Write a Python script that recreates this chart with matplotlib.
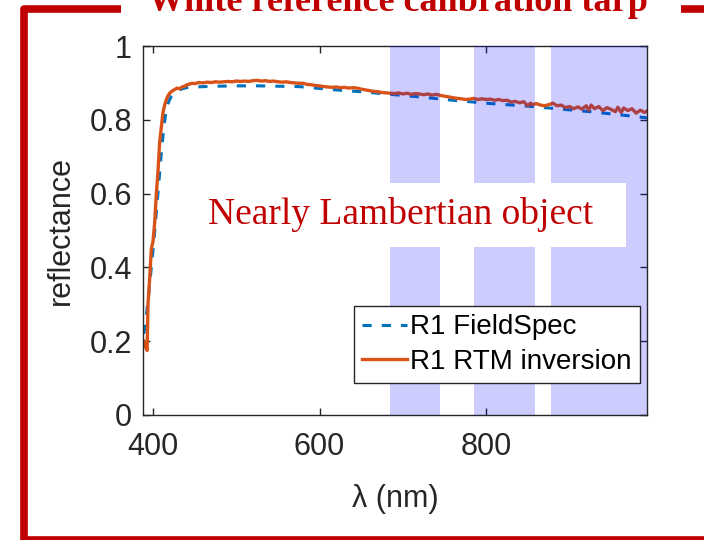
import matplotlib
matplotlib.use("Agg")
import matplotlib.pyplot as plt
from matplotlib.lines import Line2D
from matplotlib.patches import Rectangle

# ---------------- data ----------------
fs_wl = [389, 392, 395, 398, 401, 404, 407, 410, 413, 416, 419, 422, 426, 430, 435, 440, 450,
         475, 500, 525, 550, 575, 600, 625, 650, 675, 700, 725, 750, 775, 800, 825, 850,
         875, 900, 925, 950, 975, 993]
fs_val = [0.22, 0.27, 0.33, 0.40, 0.47, 0.55, 0.63, 0.71, 0.78, 0.83, 0.850, 0.864, 0.874,
          0.880, 0.884, 0.887, 0.889, 0.891, 0.892, 0.892, 0.891, 0.890, 0.885, 0.880,
          0.876, 0.871, 0.866, 0.861, 0.855, 0.850, 0.845, 0.841, 0.837, 0.832, 0.827,
          0.822, 0.816, 0.810, 0.805]

rtm_wl = [389, 391, 393, 394, 396, 398, 400, 402, 404, 406, 408, 410, 412, 414, 416, 418, 420,
          423, 426, 429, 432, 435, 438, 441, 444, 447, 450, 455, 460, 465, 470, 475, 480,
          485, 490, 495, 500, 505, 510, 515, 520, 525, 530, 535, 540, 545, 550, 555, 560,
          565, 570, 575, 580, 585, 590, 595, 600, 605, 610, 615, 620, 625, 630, 635, 640,
          645, 650, 655, 660, 665, 670, 675, 680, 685, 690, 695, 700, 705, 710, 715, 720,
          725, 730, 735, 740, 745, 750, 755, 760, 765, 770, 775, 780, 785, 790, 795, 800,
          805, 810, 815, 820, 825, 830, 835, 840, 845, 850, 853, 856, 860, 865, 870, 875,
          880, 885, 890, 895, 900, 905, 910, 915, 920, 923, 926, 930, 935, 940, 945, 950,
          955, 958, 962, 965, 970, 975, 980, 985, 990, 993]
rtm_val = [0.20, 0.185, 0.175, 0.30, 0.37, 0.45, 0.47, 0.52, 0.60, 0.66, 0.74, 0.78, 0.82,
           0.84, 0.855, 0.865, 0.872, 0.878, 0.882, 0.886, 0.884, 0.889, 0.891, 0.895,
           0.897, 0.899, 0.898, 0.901, 0.900, 0.902, 0.901, 0.903, 0.902, 0.903, 0.904,
           0.903, 0.905, 0.904, 0.905, 0.904, 0.906, 0.907, 0.905, 0.906, 0.904, 0.905,
           0.903, 0.902, 0.903, 0.901, 0.900, 0.899, 0.899, 0.896, 0.895, 0.893, 0.892,
           0.890, 0.889, 0.888, 0.889, 0.887, 0.888, 0.886, 0.887, 0.886, 0.883, 0.881,
           0.879, 0.877, 0.876, 0.874, 0.873, 0.872, 0.871, 0.873, 0.870, 0.872, 0.869,
           0.871, 0.870, 0.868, 0.870, 0.867, 0.869, 0.866, 0.864, 0.862, 0.860, 0.858,
           0.857, 0.855, 0.856, 0.858, 0.855, 0.857, 0.855, 0.856, 0.853, 0.855, 0.852,
           0.853, 0.848, 0.850, 0.846, 0.849, 0.838, 0.845, 0.841, 0.844, 0.840, 0.838,
           0.841, 0.845, 0.838, 0.840, 0.833, 0.836, 0.830, 0.835, 0.829, 0.838, 0.826,
           0.840, 0.830, 0.836, 0.825, 0.833, 0.828, 0.822, 0.834, 0.820, 0.832, 0.825,
           0.830, 0.818, 0.826, 0.820, 0.824]

bands = [(685, 745), (785, 859), (878, 1000)]

x_ticks = [400, 600, 800]
y_ticks = [0, 0.2, 0.4, 0.6, 0.8, 1]
y_tick_labels = ["0", "0.2", "0.4", "0.6", "0.8", "1"]

series_labels = ["R1 FieldSpec", "R1 RTM inversion"]
title_text = "White reference calibration tarp"
note_text = "Nearly Lambertian object"

# ---------------- style ----------------
BLUE = "#0072BD"
ORANGE = "#D95319"
DARKRED = "#C00000"
SANS = ["Liberation Sans", "DejaVu Sans"]
SERIF = ["Liberation Serif", "DejaVu Serif"]

plt.rcParams["font.family"] = SANS

fig = plt.figure(figsize=(7.04, 5.40), dpi=100)
ax = fig.add_axes([143 / 704, 1 - 415 / 540, 504 / 704, 369 / 540])

l1, = ax.plot(fs_wl, fs_val, color=BLUE, lw=2.2, ls=(0, (3.0, 3.3)), zorder=2)
l2, = ax.plot(rtm_wl, rtm_val, color=ORANGE, lw=2.4, zorder=2.2)

for a, b in bands:
    ax.axvspan(a, b, color=(0, 0, 1), alpha=0.2, lw=0, zorder=3)

ax.set_xlim(388, 993)
ax.set_ylim(0, 1)
ax.set_xticks(x_ticks)
ax.set_yticks(y_ticks)
ax.set_yticklabels(y_tick_labels)
ax.tick_params(direction="in", length=5, width=1, top=True, right=True,
               labelsize=22, colors="#262626")
ax.tick_params(axis="x", pad=12)
ax.tick_params(axis="y", pad=8)
for s in ax.spines.values():
    s.set_linewidth(1.0)
    s.set_color("#262626")

ax.set_ylabel("reflectance", fontsize=22, color="#262626", labelpad=10)
ax.set_xlabel("λ (nm)", fontsize=22, color="#262626", labelpad=16)

# white box behind the annotation
ax.add_patch(Rectangle((33 / 504, (415 - 247) / 369), 450 / 504, 64 / 369,
                       transform=ax.transAxes, facecolor="white", edgecolor="none",
                       zorder=4, clip_on=False))
ax.text((401 - 143) / 504, (415 - 215) / 369, note_text, transform=ax.transAxes,
        ha="center", va="center", fontsize=27, family=SERIF, color=DARKRED, zorder=4.5)

leg = ax.legend([l1, l2], series_labels, loc="lower right",
                bbox_to_anchor=((640 - 143) / 504, (415 - 383) / 369),
                borderaxespad=0, fontsize=20, handlelength=1.6, handletextpad=0.12,
                labelspacing=0.3, borderpad=0.3, fancybox=False, framealpha=1,
                edgecolor="#262626")
leg.get_frame().set_linewidth(1.0)
leg.set_zorder(6)

# red frame with a gap for the title
fx = [121 / 704, 23.9 / 704, 23.9 / 704, 1.03, 1.03, 681 / 704]
fy = [1 - 8.9 / 540, 1 - 8.9 / 540, 1 - 539.5 / 540, 1 - 539.5 / 540, 1 - 8.9 / 540, 1 - 8.9 / 540]
frame = Line2D(fx, fy, transform=fig.transFigure, color=DARKRED, lw=5.5,
               solid_joinstyle="round", solid_capstyle="butt", clip_on=False)
fig.lines.append(frame)

fig.text(398 / 704, 1 - 11 / 540, title_text, ha="center", va="baseline",
         fontsize=26, fontweight="bold", family=SERIF, color=DARKRED)

fig.savefig("out.png", dpi=100)
